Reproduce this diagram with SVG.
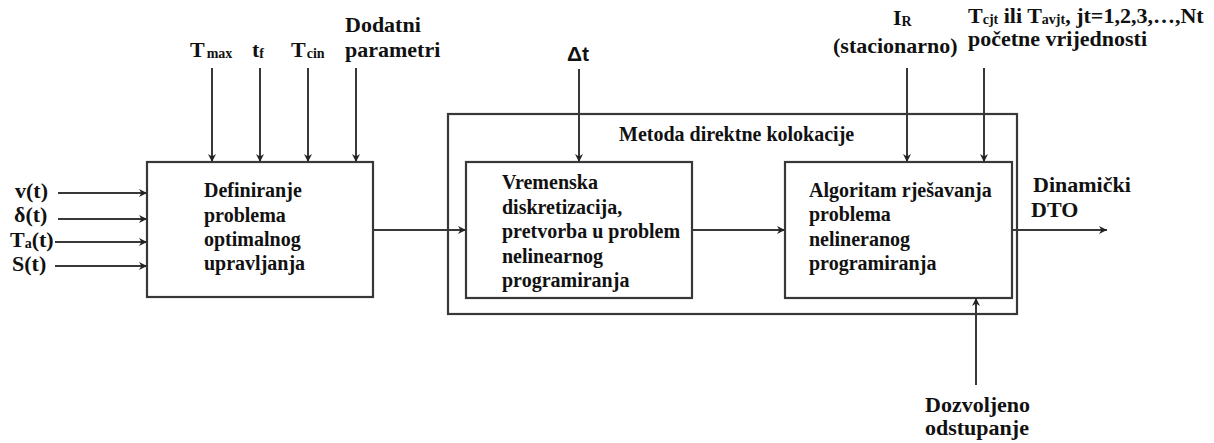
<svg xmlns="http://www.w3.org/2000/svg" width="1214" height="443" viewBox="0 0 1214 443">
<style>
.box{fill:none;stroke:#383838;stroke-width:2.2}
.ln{fill:none;stroke:#383838;stroke-width:2;marker-end:url(#ah)}
.t{font-family:"Liberation Serif","Times New Roman",serif;font-weight:bold;fill:#111}
.l{font-size:22px}
.b{font-size:20px}
.s{font-size:14px}
.sans{font-family:"Liberation Sans",Arial,sans-serif;font-weight:bold;font-size:21px;fill:#111}
</style>
<defs>
<marker id="ah" viewBox="0 0 10 10" refX="10" refY="5" markerWidth="9" markerHeight="8" markerUnits="userSpaceOnUse" orient="auto">
<path d="M0,0 L10,5 L0,10 L3,5 z" fill="#222"/>
</marker>
</defs>
<rect width="1214" height="443" fill="#fff"/>
<g id="outer-kolokacija">
<rect class="box" x="448" y="114" width="569" height="200"/>
<text class="t b" x="619" y="141">Metoda direktne kolokacije</text>
</g>
<g id="box-definiranje">
<rect class="box" x="147" y="162" width="226" height="135"/>
<text class="t b" x="204" y="197">Definiranje</text>
<text class="t b" x="204" y="222">problema</text>
<text class="t b" x="204" y="246">optimalnog</text>
<text class="t b" x="204" y="270">upravljanja</text>
</g>
<g id="box-vremenska">
<rect class="box" x="466" y="162" width="226" height="136"/>
<text class="t b" x="502" y="189">Vremenska</text>
<text class="t b" x="502" y="214">diskretizacija,</text>
<text class="t b" x="502" y="238">pretvorba u problem</text>
<text class="t b" x="502" y="263">nelinearnog</text>
<text class="t b" x="502" y="287">programiranja</text>
</g>
<g id="box-algoritam">
<rect class="box" x="785" y="162" width="227" height="136"/>
<text class="t b" x="809" y="197">Algoritam rješavanja</text>
<text class="t b" x="809" y="221">problema</text>
<text class="t b" x="809" y="246">nelineranog</text>
<text class="t b" x="809" y="270">programiranja</text>
</g>
<g id="labels-inputs">
<text class="t l" x="15" y="198">v(t)</text>
<text class="t l" x="14" y="222">δ(t)</text>
<text class="t l" x="10" y="247">T<tspan class="s" dy="1">a</tspan><tspan dy="-1">(t)</tspan></text>
<text class="t l" x="12" y="271">S(t)</text>
<text class="t l" x="190" y="57">T<tspan class="s" dx="2" dy="1">max</tspan></text>
<text class="t l" x="252" y="57">t<tspan class="s" dy="1">f</tspan></text>
<text class="t l" x="291" y="57">T<tspan class="s" dx="1" dy="1">cin</tspan></text>
<text class="t l" x="345" y="32">Dodatni</text>
<text class="t l" x="345" y="57">parametri</text>
<text class="sans" x="567" y="61">Δt</text>
<text class="t l" x="893" y="25">I<tspan class="s" dy="1">R</tspan></text>
<text class="t l" x="833" y="53">(stacionarno)</text>
<text class="t l" x="968" y="23">T<tspan class="s" dy="1">cjt</tspan><tspan dy="-1"> ili T</tspan><tspan class="s" dy="1">avjt</tspan><tspan dy="-1">, jt=1,2,3,…,Nt</tspan></text>
<text class="t l" x="968" y="46">početne vrijednosti</text>
<text class="t l" x="925" y="412">Dozvoljeno</text>
<text class="t l" x="925" y="435">odstupanje</text>
<text class="t l" x="1033" y="192">Dinamički</text>
<text class="t l" x="1031" y="217">DTO</text>
</g>
<g id="connectors">
<line class="ln" x1="58" y1="193" x2="147" y2="193"/>
<line class="ln" x1="58" y1="219" x2="147" y2="219"/>
<line class="ln" x1="55" y1="242" x2="147" y2="242"/>
<line class="ln" x1="55" y1="266" x2="147" y2="266"/>
<line class="ln" x1="212" y1="68" x2="212" y2="162"/>
<line class="ln" x1="260" y1="68" x2="260" y2="162"/>
<line class="ln" x1="308" y1="68" x2="308" y2="162"/>
<line class="ln" x1="356" y1="68" x2="356" y2="162"/>
<line class="ln" x1="579" y1="69" x2="579" y2="162"/>
<line class="ln" x1="907" y1="68" x2="907" y2="162"/>
<line class="ln" x1="984" y1="68" x2="984" y2="162"/>
<line class="ln" x1="373" y1="230" x2="466" y2="230"/>
<line class="ln" x1="692" y1="230" x2="785" y2="230"/>
<line class="ln" x1="1012" y1="230" x2="1107" y2="230"/>
<line class="ln" x1="976" y1="385" x2="976" y2="298"/>
</g>
</svg>
